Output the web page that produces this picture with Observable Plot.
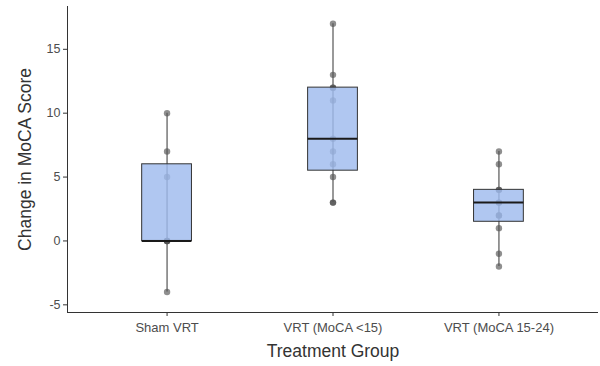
<!DOCTYPE html>
<html><head><meta charset="utf-8">
<script src="https://cdn.jsdelivr.net/npm/d3@7"></script>
<script src="https://cdn.jsdelivr.net/npm/@observablehq/plot@0.6"></script>
<style>body{margin:0;background:#fff}</style>
</head><body><div id="chart"></div>
<script>
const groups = ["Sham VRT", "VRT (MoCA <15)", "VRT (MoCA 15-24)"];
const shamValues = [-4, 0, 0, 0, 5, 7, 10];
const moca15Values = [3, 3, 5, 6, 7, 8, 11, 12, 12, 13, 17];
const moca1524Values = [-2, -1, 1, 2, 2, 3, 3, 4, 4, 6, 7];
const yTicks = [-5, 0, 5, 10, 15];

const series = [shamValues, moca15Values, moca1524Values];
const points = [];
series.forEach((vals, i) => vals.forEach(v => points.push({pos: i + 1, group: groups[i], value: v})));
const stats = series.map((vals, i) => {
  const s = vals.slice().sort((a, b) => a - b);
  return {
    pos: i + 1,
    min: s[0], max: s[s.length - 1],
    q1: d3.quantile(s, 0.25), med: d3.quantile(s, 0.5), q3: d3.quantile(s, 0.75)
  };
});
const halfW = 0.15;

const chart = Plot.plot({
  width: 600, height: 366,
  marginLeft: 67, marginRight: 2, marginTop: 6, marginBottom: 54,
  style: {fontFamily: '"Liberation Sans", Arial, Helvetica, sans-serif', background: "#fff"},
  x: {type: "linear", domain: [0.4, 3.6]},
  y: {domain: [-5.6, 18.35]},
  marks: [
    Plot.axisY({ticks: yTicks, tickFormat: d => String(d), tickSize: 4, tickPadding: 3, fontSize: 12.5, color: "#4d4d4d", label: null, stroke: "#333"}),
    Plot.axisX({ticks: [1, 2, 3], tickFormat: d => groups[d - 1], tickSize: 4, tickPadding: 6, fontSize: 13, color: "#4d4d4d", label: null, stroke: "#333"}),
    Plot.ruleX([0.4], {stroke: "#333", strokeWidth: 1}),
    Plot.ruleY([-5.6], {stroke: "#333", strokeWidth: 1}),
    Plot.dot(points, {x: "pos", y: "value", r: 3.2, fill: "#444", fillOpacity: 0.6, stroke: "none"}),
    Plot.ruleX(stats, {x: "pos", y1: "min", y2: "max", stroke: "#555", strokeWidth: 1.2}),
    Plot.rect(stats, {x1: d => d.pos - halfW, x2: d => d.pos + halfW, y1: "q1", y2: "q3", fill: "#9fbbee", fillOpacity: 0.82, stroke: "#333", strokeWidth: 1}),
    Plot.ruleY(stats, {y: "med", x1: d => d.pos - halfW, x2: d => d.pos + halfW, stroke: "#1a1a1a", strokeWidth: 2}),
    Plot.text(["Treatment Group"], {frameAnchor: "bottom", dy: 44, fontSize: 17.5, fill: "#333"}),
    Plot.text(["Change in MoCA Score"], {frameAnchor: "left", dx: -42, rotate: -90, textAnchor: "middle", fontSize: 17.5, fill: "#333"})
  ]
});
document.getElementById("chart").appendChild(chart);
</script>
</body></html>
